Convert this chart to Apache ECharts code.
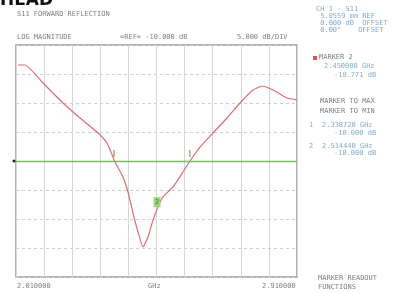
<!DOCTYPE html>
<html>
  <head>
    <meta charset="utf-8" />
    <title>S11 forward reflection</title>
    <script src="https://cdn.jsdelivr.net/npm/echarts@6/dist/echarts.min.js"></script>
    <style>
      html, body { margin: 0; padding: 0; background: #fff; }
      #chart { width: 401px; height: 293px; }
    </style>
  </head>
  <body>
    <div id="chart"></div>
  </body>

  <script type="text/javascript">
    var startGHz = 2.01;
    var stopGHz = 2.91;
    var freqGHz = [
      2.0164, 2.0388, 2.0965, 2.1605, 2.215, 2.2694, 2.3015, 2.3271, 2.3527,
      2.3687, 2.3847, 2.4008, 2.4168, 2.4328, 2.4488, 2.4648, 2.4808, 2.5129,
      2.5449, 2.5737, 2.5993, 2.641, 2.6858, 2.7275, 2.7691, 2.798, 2.8332,
      2.878, 2.91,
    ];
    var magDb = [
      6.55, 6.55, 3.45, 0.0, -2.59, -5.0, -6.9, -10.17, -12.76, -15.34,
      -18.97, -22.24, -24.83, -23.1, -20.17, -17.93, -16.2, -14.48, -11.9,
      -9.48, -7.59, -5.17, -2.59, 0.0, 2.24, 2.93, 2.24, 0.86, 0.52,
    ];
    var refDb = -10;
    // markers: 1 and 2 on the reference line, active marker 2
    var markerFreq = [2.324, 2.567];
    var activeFreq = 2.4616;
    var activeDb = -17.1;

    var infoLines = ["CH 1 - S11", " 5.0559 mm REF", " 0.000 dB  OFFSET", " 0.00°    OFFSET"];

    var chart = echarts.init(document.getElementById("chart"));

    function toX(f) {
      return Math.round((f - startGHz) * 10000) / 10;
    }

    var trace = [];
    for (var i = 0; i < freqGHz.length; i++) {
      trace.push([toX(freqGHz[i]), magDb[i]]);
    }

    var mono = "DejaVu Sans Mono";
    var grayTxt = "#808080";
    var blueTxt = "#86abc9";

    function txt(x, y, s, color, size) {
      return {
        type: "text",
        left: x,
        top: y,
        style: {
          text: s,
          fill: color || grayTxt,
          font: (size || 7) + "px " + mono,
        },
      };
    }

    var graphics = [
      {
        type: "text",
        left: 0,
        top: -8,
        style: { text: "HEAD", fill: "#111", font: "bold 17px DejaVu Sans" },
      },
      txt(17, 11, "S11 FORWARD REFLECTION"),
      txt(17, 34, "LOG MAGNITUDE"),
      txt(120, 34, "=REF= -10.000 dB"),
      txt(237, 34, "5.000 dB/DIV"),
      txt(17, 283, "2.010000"),
      txt(148, 283, "GHz"),
      txt(262, 283, "2.910000"),
      txt(316, 6, infoLines[0], blueTxt),
      txt(316, 13, infoLines[1], blueTxt),
      txt(316, 20, infoLines[2], blueTxt),
      txt(316, 27, infoLines[3], blueTxt),
      {
        type: "rect",
        left: 313,
        top: 56,
        shape: { width: 4, height: 4 },
        style: { fill: "#e05050" },
      },
      txt(319, 54, "MARKER 2"),
      txt(324, 63, "2.450000 GHz", blueTxt),
      txt(334, 72, "-18.771 dB", blueTxt),
      txt(320, 98, "MARKER TO MAX"),
      txt(320, 108, "MARKER TO MIN"),
      txt(309, 122, "1", blueTxt),
      txt(322, 122, "2.338720 GHz", blueTxt),
      txt(334, 130, "-10.000 dB", blueTxt),
      txt(309, 143, "2", blueTxt),
      txt(322, 143, "2.514440 GHz", blueTxt),
      txt(334, 150, "-10.000 dB", blueTxt),
      txt(318, 275, "MARKER READOUT"),
      txt(318, 284, "FUNCTIONS"),
    ];

    var option = {
      animation: false,
      backgroundColor: "#ffffff",
      grid: {
        left: 16,
        right: 104,
        top: 45,
        bottom: 16,
        show: true,
        borderColor: "#9a9a9a",
        borderWidth: 1.5,
      },
      xAxis: {
        type: "value",
        min: 0,
        max: 900,
        interval: 90,
        axisLine: { show: false },
        axisTick: { show: false },
        axisLabel: { show: false },
        splitLine: { lineStyle: { color: "#d6d6d6", width: 1 } },
      },
      yAxis: {
        type: "value",
        min: -30,
        max: 10,
        interval: 5,
        axisLine: { show: false },
        axisTick: { show: false },
        axisLabel: { show: false },
        splitLine: {
          lineStyle: { color: "#cfcfcf", width: 1, type: [3, 3] },
        },
      },
      series: [
        {
          type: "line",
          data: trace,
          smooth: 0.15,
          showSymbol: false,
          lineStyle: { color: "#e26b6b", width: 1.2 },
          markLine: {
            silent: true,
            symbol: ["none", "none"],
            label: { show: false },
            lineStyle: { color: "#72c05e", width: 1.3, type: "solid" },
            data: [{ yAxis: refDb }],
          },
          markPoint: {
            silent: true,
            data: [
              {
                coord: [toX(markerFreq[0]), refDb + 1.3],
                symbol: "rect",
                symbolSize: [1.2, 7],
                itemStyle: { color: "#a88a4a" },
                label: { show: false },
              },
              {
                coord: [toX(markerFreq[1]), refDb + 1.3],
                symbol: "rect",
                symbolSize: [1.2, 7],
                itemStyle: { color: "#a88a4a" },
                label: { show: false },
              },
              {
                coord: [toX(activeFreq), activeDb],
                symbol: "rect",
                symbolSize: [7, 10],
                itemStyle: { color: "#9bd67f" },
                label: {
                  show: true,
                  formatter: "2",
                  color: "#3f7a2e",
                  fontSize: 7,
                  fontFamily: mono,
                },
              },
              {
                coord: [0, refDb],
                symbol: "circle",
                symbolSize: 3,
                symbolOffset: [-2, 0],
                itemStyle: { color: "#222" },
                label: { show: false },
              },
            ],
          },
        },
      ],
      graphic: graphics,
    };

    chart.setOption(option);
  </script>
</html>
